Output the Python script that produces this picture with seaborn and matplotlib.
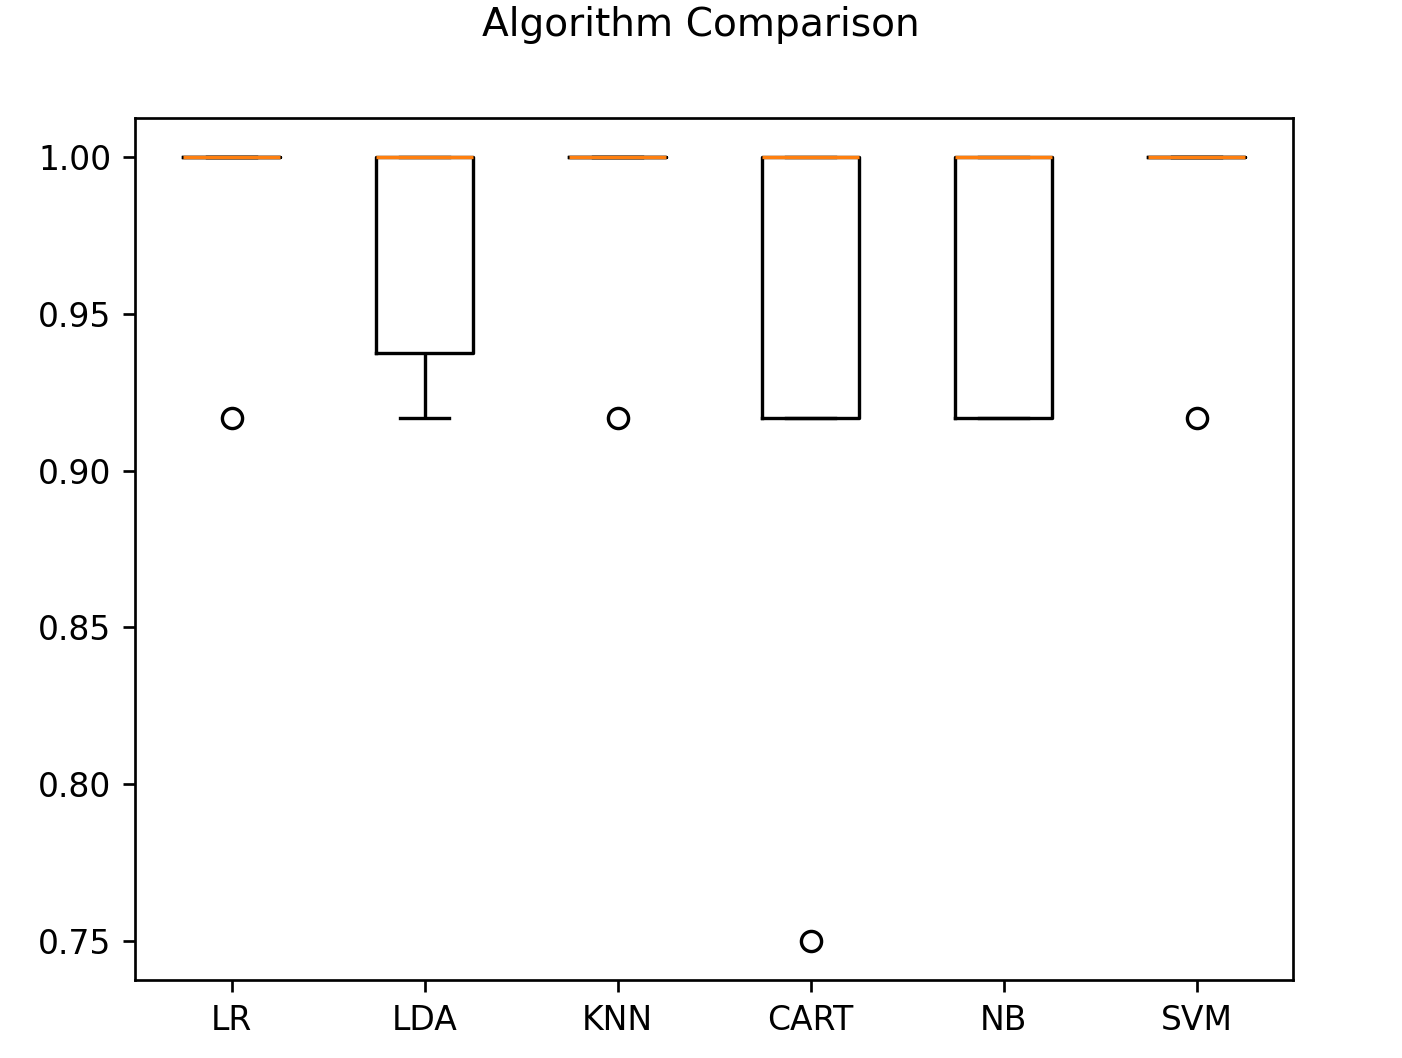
import pandas as pd
import matplotlib
matplotlib.use("Agg")
import matplotlib.pyplot as plt
import seaborn as sns

# cross-validation accuracies per algorithm (10 folds each)
names = ["LR", "LDA", "KNN", "CART", "NB", "SVM"]
lr = [0.9167, 1, 1, 1, 1, 1, 1, 1, 1, 1]
lda = [0.9167, 0.9167, 0.9167, 1, 1, 1, 1, 1, 1, 1]
knn = [0.9167, 1, 1, 1, 1, 1, 1, 1, 1, 1]
cart = [0.75, 0.9167, 0.9167, 0.9167, 1, 1, 1, 1, 1, 1]
nb = [0.9167, 0.9167, 0.9167, 0.9167, 1, 1, 1, 1, 1, 1]
svm = [0.9167, 1, 1, 1, 1, 1, 1, 1, 1, 1]
results = [lr, lda, knn, cart, nb, svm]

rows = []
for name, scores in zip(names, results):
    for s in scores:
        rows.append({"algo": name, "score": s})
df = pd.DataFrame(rows)

k = 1.1  # scale relative to default sizes
fig = plt.figure(figsize=(1402 / 220, 1058 / 220), dpi=220)
ax = fig.add_axes([0.0963, 0.0737, 0.8260, 0.8148])
fig.suptitle("Algorithm Comparison", fontsize=12.8, y=0.994)

sns.boxplot(data=df, x="algo", y="score", ax=ax, fill=False, color="black",
            width=0.5, linewidth=1.1, whis=1.5,
            medianprops={"color": "#ff7f0e", "linewidth": 1.1},
            flierprops={"marker": "o", "markerfacecolor": "none",
                        "markeredgecolor": "black", "markersize": 6.6,
                        "markeredgewidth": 1.1})

ax.set_xlabel("")
ax.set_ylabel("")
ax.set_ylim(0.7375, 1.0125)
ax.set_yticks([0.75, 0.80, 0.85, 0.90, 0.95, 1.00])
ax.set_yticklabels(["0.75", "0.80", "0.85", "0.90", "0.95", "1.00"])
ax.tick_params(labelsize=10.8, length=3.5 * k, width=0.8 * k, pad=3.5 * k)
for sp in ax.spines.values():
    sp.set_linewidth(0.8 * k)

fig.savefig("out.png", dpi=220)
